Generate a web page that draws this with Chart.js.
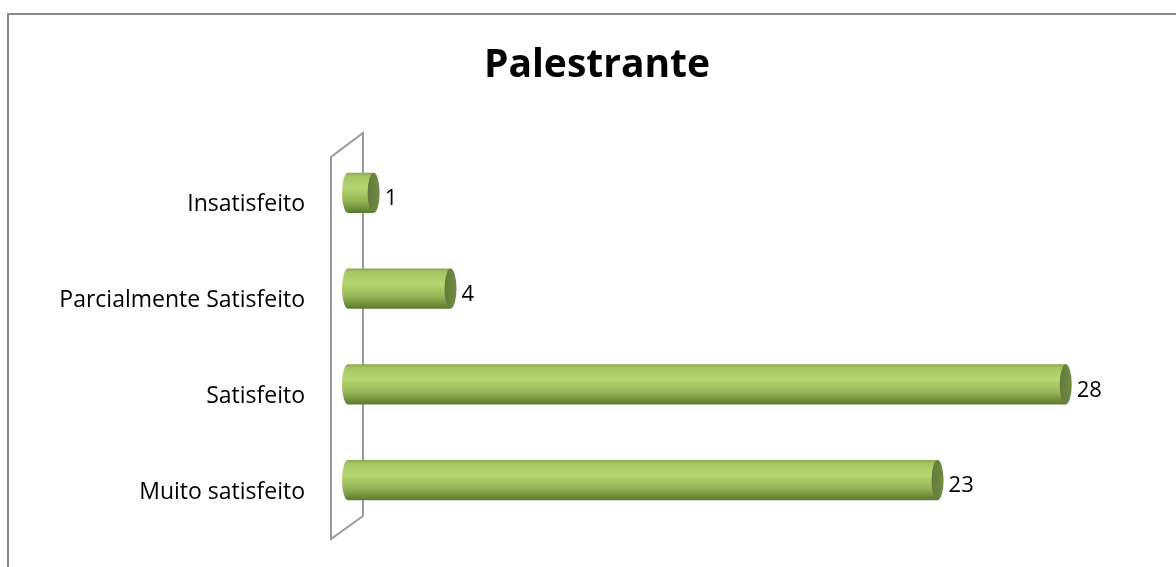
<!DOCTYPE html>
<html lang="pt">
<head>
<meta charset="UTF-8">
<title>Palestrante</title>
<script src="https://cdn.jsdelivr.net/npm/chart.js"></script>
<style>
  html, body { margin: 0; padding: 0; background: #fff; overflow: hidden; }
  #wrap { width: 1176px; height: 567px; position: relative; }
</style>
</head>
<body>
<div id="wrap"><canvas id="grafico"></canvas></div>

<script>
    // dados do gráfico
    const categorias = ['Insatisfeito', 'Parcialmente Satisfeito', 'Satisfeito', 'Muito satisfeito'];
    const valores = [1, 4, 28, 23];
    const titulo = 'Palestrante';
    const eixoMax = 30;

    const fonte = '"Open Sans", sans-serif';

    // gradiente vertical do cilindro
    function gradienteBarra(ctx, yTopo, yBase) {
        const g = ctx.createLinearGradient(0, yTopo, 0, yBase);
        g.addColorStop(0, '#8aa84f');
        g.addColorStop(0.08, '#a3c563');
        g.addColorStop(0.38, '#b4d772');
        g.addColorStop(0.7, '#93b553');
        g.addColorStop(1, '#5e7832');
        return g;
    }

    // moldura, parede 3D e título
    const fundo = {
        id: 'fundo',
        beforeDatasetsDraw(chart) {
            const ctx = chart.ctx;
            const a = chart.chartArea;
            ctx.save();
            ctx.strokeStyle = '#8a8a8a';
            ctx.lineWidth = 2;
            ctx.beginPath();
            ctx.moveTo(8, 567);
            ctx.lineTo(8, 14);
            ctx.lineTo(1176, 14);
            ctx.stroke();

            ctx.strokeStyle = '#9a9a9a';
            ctx.lineWidth = 2;
            const xf = a.left - 17, xt = a.left + 15;
            ctx.beginPath();
            ctx.moveTo(xt, a.bottom - 12);
            ctx.lineTo(xf, a.bottom + 11);
            ctx.lineTo(xf, a.top + 12);
            ctx.lineTo(xt, a.top - 12);
            ctx.lineTo(xt, a.bottom - 12);
            ctx.stroke();

            ctx.fillStyle = '#000';
            ctx.font = 'bold 39px ' + fonte;
            ctx.textAlign = 'center';
            ctx.textBaseline = 'alphabetic';
            ctx.fillText(titulo, 597, 77);
            ctx.restore();
        }
    };

    // tampas do cilindro e rótulos de valor
    const cilindro = {
        id: 'cilindro',
        afterDatasetsDraw(chart) {
            const ctx = chart.ctx;
            const meta = chart.getDatasetMeta(0);
            ctx.save();
            meta.data.forEach((barra, i) => {
                const p = barra.getProps(['x', 'y', 'base', 'height'], true);
                const ry = p.height / 2;
                const rx = 6;

                // lado esquerdo arredondado
                ctx.fillStyle = gradienteBarra(ctx, p.y - ry, p.y + ry);
                ctx.beginPath();
                ctx.ellipse(p.base, p.y, rx, ry, 0, Math.PI / 2, Math.PI * 1.5);
                ctx.closePath();
                ctx.fill();

                // tampa da direita
                const gt = ctx.createLinearGradient(p.x - rx, 0, p.x + rx, 0);
                gt.addColorStop(0, '#627a3a');
                gt.addColorStop(1, '#718c45');
                ctx.fillStyle = gt;
                ctx.beginPath();
                ctx.ellipse(p.x, p.y, rx, ry, 0, 0, Math.PI * 2);
                ctx.fill();

                ctx.fillStyle = '#000';
                ctx.font = '22px ' + fonte;
                ctx.textAlign = 'left';
                ctx.textBaseline = 'middle';
                ctx.fillText(String(valores[i]), p.x + 11, p.y + 6);
            });
            ctx.restore();
        }
    };

    new Chart(document.getElementById('grafico'), {
        type: 'bar',
        data: {
            labels: categorias,
            datasets: [{
                data: valores,
                backgroundColor: function (c) {
                    const chart = c.chart;
                    if (!chart.chartArea || !chart.scales.y) return '#9bbb59';
                    const y = chart.scales.y.getPixelForValue(c.dataIndex);
                    return gradienteBarra(chart.ctx, y - 20, y + 20);
                },
                borderWidth: 0,
                barPercentage: 0.42,
                categoryPercentage: 1
            }]
        },
        plugins: [fundo, cilindro],
        options: {
            indexAxis: 'y',
            responsive: true,
            maintainAspectRatio: false,
            animation: false,
            layout: { padding: { left: 0, right: 59, top: 145, bottom: 39 } },
            plugins: {
                legend: { display: false },
                title: { display: false },
                tooltip: { enabled: false }
            },
            scales: {
                x: {
                    display: false,
                    min: 0,
                    max: eixoMax
                },
                y: {
                    afterFit(s) { s.width = 348; },
                    // o espaço até as barras vem do tickLength, sem padding extra
                    grid: { display: false, drawTicks: true, tickLength: 43 },
                    border: { display: false },
                    ticks: {
                        padding: 0,
                        labelOffset: 12,
                        color: '#000',
                        font: { family: fonte, size: 23 }
                    }
                }
            }
        }
    });
</script>
</body>
</html>
